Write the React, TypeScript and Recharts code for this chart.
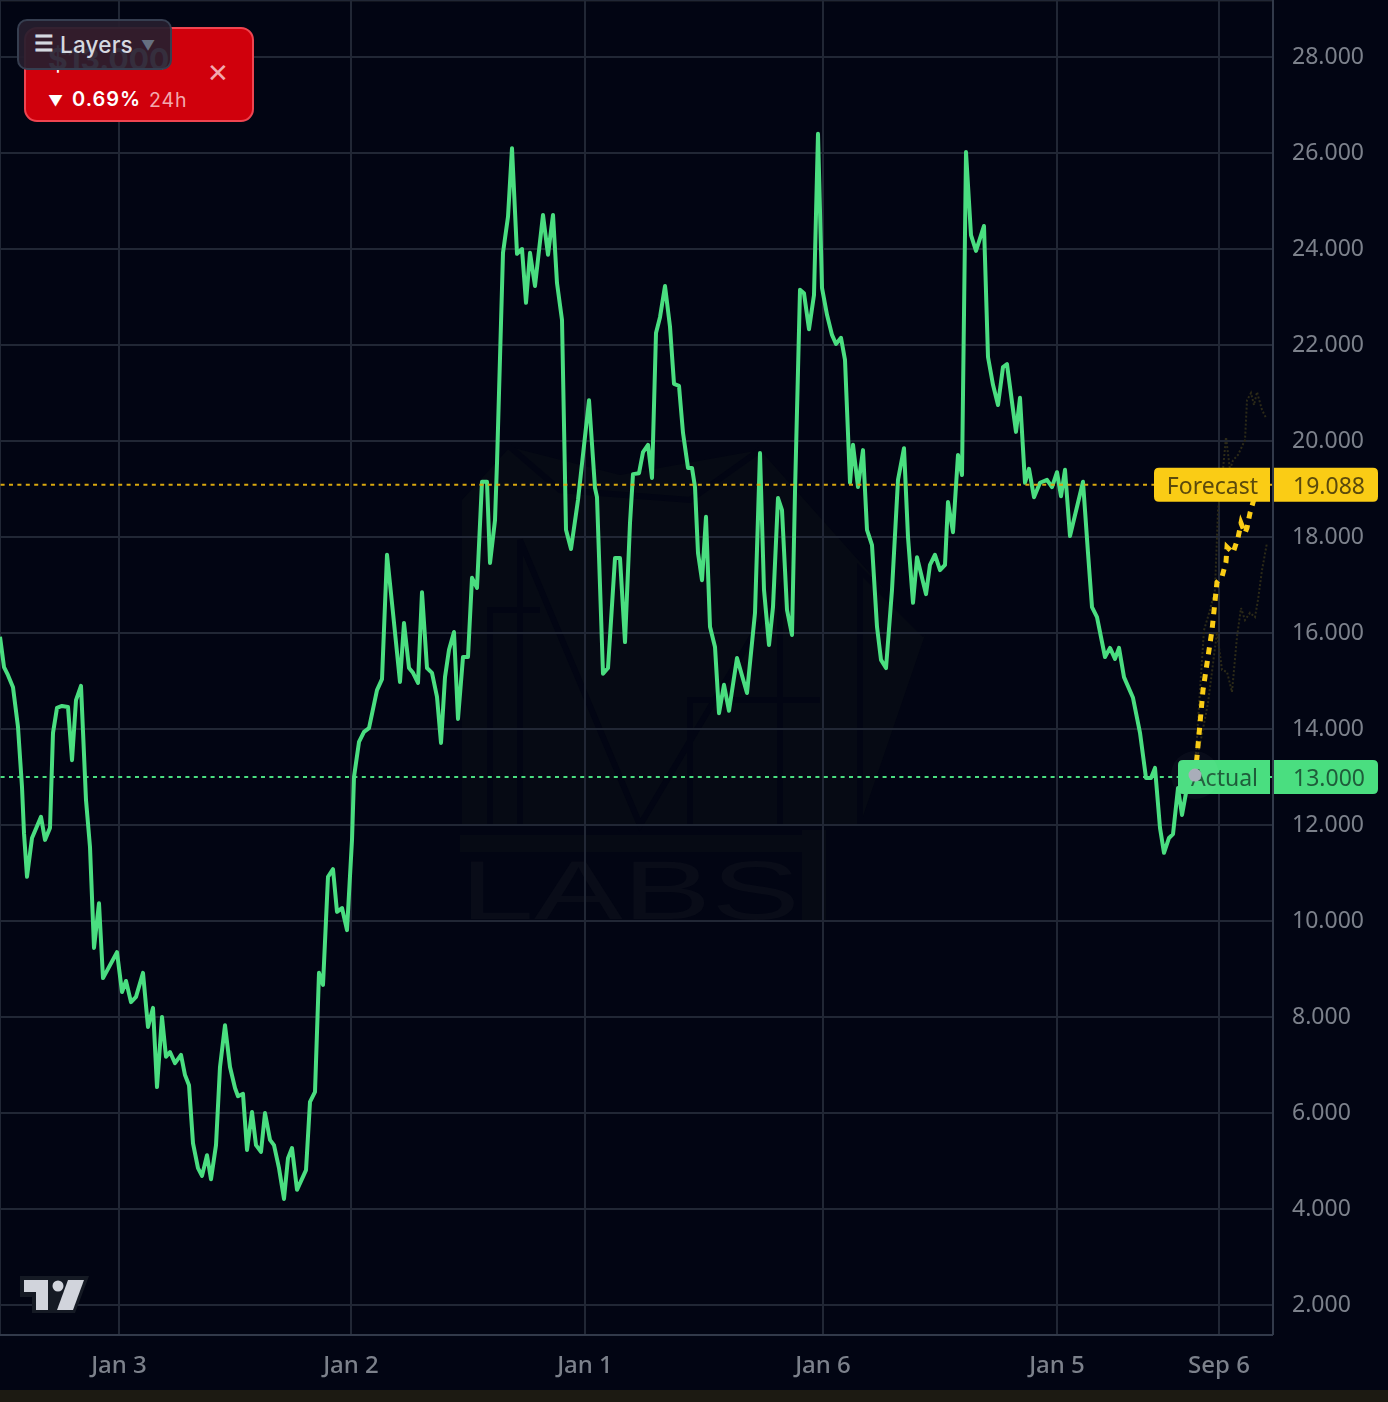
import { LineChart, Line, XAxis, YAxis, CartesianGrid, ReferenceLine } from 'recharts';

const WIDTH = 1388;
const HEIGHT = 1402;

const COLORS = {
    page: '#020513',
    grid: '#212735',
    axis: '#323a4a',
    tick: '#7c818b',
    green: '#4ade80',
    yellow: '#facc15',
};

// x is the bar time on a plain linear scale
const tickTimes = [119, 351, 585, 823, 1057, 1219];
const tickLabels = ['Jan 3', 'Jan 2', 'Jan 1', 'Jan 6', 'Jan 5', 'Sep 6'];
const priceTicks = [2, 4, 6, 8, 10, 12, 14, 16, 18, 20, 22, 24, 26, 28];

const FORECAST_PRICE = 19.088;
const ACTUAL_PRICE = 13;

const actualTimes = [
    0, 4, 8, 13, 18, 22, 24, 27, 32, 41, 45, 50, 53, 57, 62, 68, 72, 76, 81, 86, 90, 94, 99, 103, 117, 122, 126, 131, 136, 143,
    148, 153, 157, 162, 166, 170, 175, 181, 185, 189, 193, 198, 202, 207, 211, 216, 220, 225, 230, 235, 238, 243, 247, 252, 256, 261, 265, 270, 274, 279,
    284, 288, 292, 297, 306, 310, 315, 319, 323, 328, 333, 337, 342, 347, 352, 354, 359, 364, 369, 377, 382, 387, 393, 400, 404, 409, 413, 418, 422, 427,
    432, 437, 441, 445, 449, 454, 458, 463, 468, 472, 477, 482, 487, 490, 495, 497, 503, 508, 512, 517, 522, 526, 530, 535, 543, 548, 553, 557, 562, 566,
    571, 578, 589, 595, 597, 603, 608, 615, 620, 625, 630, 633, 639, 643, 648, 652, 656, 660, 665, 670, 674, 679, 683, 688, 692, 695, 698, 702, 706, 710,
    715, 719, 724, 729, 737, 747, 755, 760, 764, 769, 773, 778, 782, 787, 792, 795, 800, 804, 809, 814, 818, 822, 827, 832, 836, 841, 845, 850, 853, 858,
    863, 867, 872, 877, 881, 886, 892, 898, 904, 908, 913, 917, 926, 930, 935, 940, 945, 948, 953, 958, 962, 966, 971, 976, 984, 988, 993, 998, 1003, 1007,
    1012, 1016, 1020, 1025, 1029, 1034, 1040, 1047, 1052, 1057, 1061, 1065, 1070, 1083, 1088, 1092, 1097, 1105, 1110, 1115, 1119, 1124, 1133, 1140, 1146, 1151, 1155, 1160, 1164, 1169, 1173, 1178, 1182, 1186,
];

const actualPrices = [
    15.92, 15.29, 15.12, 14.87, 14.04, 12.79, 11.83, 10.92, 11.73, 12.17, 11.69, 11.94, 13.92, 14.44, 14.48, 14.46, 13.35, 14.6, 14.9, 12.52, 11.54, 9.44, 10.37, 8.81, 9.35, 8.52, 8.75, 8.31, 8.42, 8.92,
    7.79, 8.19, 6.54, 8.0, 7.17, 7.27, 7.04, 7.21, 6.79, 6.58, 5.37, 4.85, 4.69, 5.12, 4.62, 5.33, 6.96, 7.83, 6.96, 6.52, 6.35, 6.4, 5.23, 6.02, 5.33, 5.19, 6.0, 5.44, 5.33, 4.85,
    4.21, 5.06, 5.27, 4.4, 4.81, 6.23, 6.44, 8.92, 8.67, 10.92, 11.08, 10.19, 10.27, 9.81, 11.69, 13.0, 13.73, 13.94, 14.02, 14.81, 15.04, 17.63, 16.42, 14.98, 16.21, 15.27, 15.17, 14.96, 16.85, 15.27,
    15.17, 14.67, 13.71, 15.08, 15.65, 16.02, 14.21, 15.5, 15.5, 17.15, 16.94, 19.15, 19.15, 17.46, 18.35, 19.54, 23.92, 24.67, 26.1, 23.9, 24.0, 22.88, 23.92, 23.23, 24.71, 23.88, 24.71, 23.29, 22.52, 18.15,
    17.75, 18.77, 20.85, 19.02, 18.83, 15.15, 15.27, 17.56, 17.56, 15.81, 18.29, 19.31, 19.33, 19.77, 19.92, 19.23, 22.25, 22.58, 23.23, 22.38, 21.19, 21.15, 20.17, 19.44, 19.44, 19.04, 17.67, 17.1, 18.42, 16.13,
    15.71, 14.33, 14.92, 14.38, 15.48, 14.75, 16.42, 19.75, 16.9, 15.75, 16.54, 18.81, 18.56, 16.48, 15.96, 18.94, 23.15, 23.08, 22.33, 23.04, 26.4, 23.19, 22.63, 22.21, 22.02, 22.15, 21.69, 19.13, 19.92, 19.04,
    19.81, 18.15, 17.83, 16.13, 15.44, 15.27, 16.9, 19.19, 19.85, 18.0, 16.63, 17.58, 16.81, 17.42, 17.63, 17.31, 17.42, 18.73, 18.1, 19.71, 19.29, 26.02, 24.29, 23.96, 24.48, 21.75, 21.17, 20.75, 21.54, 21.6,
    20.81, 20.19, 20.9, 19.13, 19.42, 18.83, 19.13, 19.19, 19.04, 19.35, 18.85, 19.4, 18.02, 19.15, 17.67, 16.54, 16.33, 15.5, 15.69, 15.46, 15.69, 15.08, 14.65, 13.92, 12.98, 12.98, 13.19, 11.94, 11.42, 11.73, 11.81, 12.77, 12.21, 12.67,
];

const forecastTimes = [1195, 1197, 1203, 1212, 1217, 1222, 1226, 1227, 1233, 1238, 1241, 1245, 1247, 1250, 1258];
const forecastPrices = [13.04, 13.42, 14.81, 16.06, 17.06, 17.17, 17.48, 17.79, 17.67, 17.98, 18.29, 18.08, 18.19, 18.5, 19.08];

const upperTimes = [1195, 1200, 1204, 1210, 1215, 1218, 1222, 1226, 1230, 1233, 1238, 1245, 1247, 1251, 1254, 1257, 1262, 1266];
const upperPrices = [13.15, 14.81, 16.06, 16.48, 16.9, 18.56, 19.19, 20.08, 19.4, 19.6, 19.71, 20.02, 20.85, 21.0, 20.75, 21.02, 20.65, 20.48];

const lowerTimes = [1195, 1208, 1217, 1222, 1227, 1232, 1237, 1241, 1245, 1250, 1255, 1258, 1262, 1267];
const lowerPrices = [13.15, 14.54, 16.02, 15.23, 15.19, 14.77, 15.92, 16.52, 16.27, 16.42, 16.33, 16.69, 17.31, 17.88];

const toRows = (times: number[], prices: number[]) => times.map((time, i) => ({ time, price: prices[i] }));

const actualData = toRows(actualTimes, actualPrices);
const forecastData = toRows(forecastTimes, forecastPrices);
const upperData = toRows(upperTimes, upperPrices);
const lowerData = toRows(lowerTimes, lowerPrices);

const formatTime = (t: number) => tickLabels[tickTimes.indexOf(t)] ?? '';

function PriceTag({ viewBox, name, price, fill, ink, tagWidth }: any) {
    const right = viewBox.x + viewBox.width;
    const y = viewBox.y;
    const font = { fontFamily: 'Noto Sans', fontSize: 23 };
    return (
        <g>
            <path
                d={`M${right - 3 - tagWidth + 5} ${y - 17}H${right - 3}V${y + 17}H${right - 3 - tagWidth + 5}q-5 0 -5 -5V${y - 12}q0 -5 5 -5z`}
                fill={fill}
            />
            <path d={`M${right - 1} ${y - 17}H${right + 100}q5 0 5 5V${y + 12}q0 5 -5 5H${right - 1}z`} fill={fill} />
            <text x={right - 15} y={y + 9} textAnchor="end" fill={ink} {...font}>{name}</text>
            <text x={right + 92} y={y + 9} textAnchor="end" fill={ink} {...font}>{price}</text>
        </g>
    );
}

// gray marker where the forecast starts
function ForecastStart({ cx, cy, index }: any) {
    if (index !== 0) return <g key={index} />;
    return (
        <g key={index}>
            <circle cx={cx} cy={cy} r={24} fill="#ffffff" opacity={0.03} />
            <circle cx={cx} cy={cy} r={6.5} fill="#a9adb9" />
        </g>
    );
}

function Watermark() {
    return (
        <svg width={WIDTH} height={HEIGHT} style={{ position: 'absolute', left: 0, top: 0 }}>
            <rect width={WIDTH} height={HEIGHT} fill={COLORS.page} />
            <rect width={1273} height={2} fill="#11141e" />
            <polygon points="462,500 510,447 620,475 760,450 925,635 860,825 462,825" fill="#060a14" />
            <g stroke={COLORS.page} strokeWidth={6} fill="none">
                <polyline points="520,825 520,540 640,825 780,590 780,825" />
                <polyline points="490,825 490,610 540,610" />
                <polyline points="690,825 690,700 820,700" />
                <polyline points="510,447 560,490 690,500 760,450" />
                <polyline points="860,825 860,570 925,635" />
            </g>
            <rect x={460} y={835} width={342} height={17} fill="#060a14" />
            <rect x={802} y={830} width={24} height={90} fill="#060a14" />
            <text x={460} y={919} fontFamily="Liberation Sans" fontSize={84} textLength={340} lengthAdjust="spacingAndGlyphs" fill="#090c18">
                LABS
            </text>
            <rect y={1390} width={WIDTH} height={12} fill="#1c1a12" />
        </svg>
    );
}

function TradingViewMark() {
    return (
        <svg width={110} height={60} style={{ position: 'absolute', left: 0, top: 1265 }} viewBox="0 1265 110 60">
            <polygon points="20,1276 89,1276 75,1313 32,1313 32,1297 20,1297" fill="#151a24" />
            <polygon points="24,1280 48,1280 48,1310 36,1310 36,1292 24,1292" fill="#d1d4dc" />
            <circle cx={58} cy={1286} r={5.5} fill="#d1d4dc" />
            <polygon points="68,1280 84,1280 73,1310 57,1310" fill="#d1d4dc" />
        </svg>
    );
}

function PriceCard() {
    const font = { fontFamily: 'Inter', position: 'absolute' as const, whiteSpace: 'nowrap' as const };
    return (
        <>
            <div style={{ position: 'absolute', left: 24, top: 27, width: 226, height: 91, background: '#d0000c', border: '2px solid #ef4450', borderRadius: 13 }} />
            <div style={{ ...font, left: 48, top: 41, fontSize: 30, fontWeight: 700, color: '#fff' }}>$13.000</div>
            <div style={{ ...font, left: 48, top: 91, fontSize: 15, color: '#fff' }}>▼</div>
            <div style={{ ...font, left: 72, top: 87, fontSize: 20, fontWeight: 600, letterSpacing: 1, color: '#fff' }}>0.69%</div>
            <div style={{ ...font, left: 149, top: 88, fontSize: 19.5, letterSpacing: 0.9, color: '#f3a9ae' }}>24h</div>
            <div style={{ ...font, left: 207, top: 57, fontSize: 26, color: '#f3a9ae' }}>✕</div>
            <div style={{ position: 'absolute', left: 17, top: 19, width: 151, height: 47, background: 'rgba(38,30,46,0.93)', border: '2px solid #363e50', borderRadius: 10 }} />
            <div style={{ ...font, left: 34, top: 30, fontSize: 22, fontWeight: 700, color: '#d5d8e0' }}>☰</div>
            <div style={{ ...font, left: 60, top: 31, fontSize: 22.5, fontWeight: 500, letterSpacing: 0.2, color: '#d5d8e0' }}>Layers</div>
            <div style={{ ...font, left: 141, top: 37, fontSize: 14, color: '#667080' }}>▼</div>
        </>
    );
}

export default function App() {
    return (
        <div style={{ position: 'absolute', left: 0, top: 0, width: WIDTH, height: HEIGHT, overflow: 'hidden' }}>
            <Watermark />
            <div style={{ position: 'absolute', left: 0, top: 0, filter: 'blur(0.5px)' }}>
                <LineChart width={WIDTH} height={HEIGHT} margin={{ top: 0, right: 0, bottom: 0, left: 0 }}>
                    <CartesianGrid stroke={COLORS.grid} strokeWidth={2} />
                    <XAxis
                        dataKey="time"
                        type="number"
                        domain={[0, 1273]}
                        ticks={tickTimes}
                        tickFormatter={formatTime}
                        height={67}
                        stroke={COLORS.axis}
                        strokeWidth={2}
                        tickLine={false}
                        tickMargin={15}
                        tick={{ fill: COLORS.tick, fontSize: 24, fontWeight: 500, fontFamily: 'Noto Sans' }}
                    />
                    <YAxis
                        orientation="right"
                        type="number"
                        domain={[1.375, 29.1875]}
                        ticks={priceTicks}
                        tickFormatter={(v: number) => v.toFixed(3)}
                        width={115}
                        stroke={COLORS.axis}
                        strokeWidth={2}
                        tickLine={false}
                        tickMargin={13}
                        tick={{ fill: COLORS.tick, fontSize: 23, fontFamily: 'Noto Sans', textAnchor: 'start', dy: -1 }}
                    />
                    <Line data={upperData} dataKey="price" stroke="#2c2a18" strokeWidth={2} strokeDasharray="2 2" dot={false} activeDot={false} isAnimationActive={false} />
                    <Line data={lowerData} dataKey="price" stroke="#2c2a18" strokeWidth={2} strokeDasharray="2 2" dot={false} activeDot={false} isAnimationActive={false} />
                    <Line data={actualData} dataKey="price" stroke={COLORS.green} strokeWidth={4} strokeLinejoin="round" dot={false} activeDot={false} isAnimationActive={false} />
                    <Line data={forecastData} dataKey="price" stroke={COLORS.yellow} strokeWidth={5} strokeDasharray="7 6.5" dot={false} activeDot={false} isAnimationActive={false} />
                    <ReferenceLine
                        y={FORECAST_PRICE}
                        stroke="#d9a80f"
                        strokeWidth={2}
                        strokeDasharray="4 4.4"
                        label={(p: any) => <PriceTag {...p} name="Forecast" price={FORECAST_PRICE.toFixed(3)} fill={COLORS.yellow} ink="#5b4a0c" tagWidth={116} />}
                    />
                    <ReferenceLine
                        y={ACTUAL_PRICE}
                        stroke={COLORS.green}
                        strokeWidth={2}
                        strokeDasharray="4 4.4"
                        label={(p: any) => <PriceTag {...p} name="Actual" price={ACTUAL_PRICE.toFixed(3)} fill={COLORS.green} ink="#1f5c3a" tagWidth={92} />}
                    />
                    <Line data={forecastData.slice(0, 1)} dataKey="price" stroke="none" dot={<ForecastStart />} activeDot={false} isAnimationActive={false} />
                </LineChart>
            </div>
            <TradingViewMark />
            <PriceCard />
        </div>
    );
}
